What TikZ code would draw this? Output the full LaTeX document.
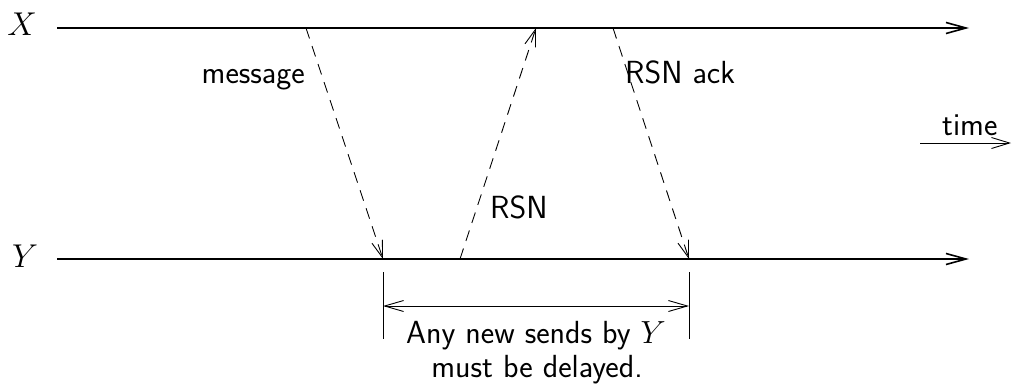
\documentclass[tikz,border=0pt]{standalone}
\usepackage{fix-cm}
\usepackage{fontspec}
\usetikzlibrary{arrows.meta}
\tikzset{
  timeline/.style={line width=1.6pt,-{Straight Barb[length=20pt,width=11pt,line width=1.6pt]}},
  msgline/.style={line width=0.9pt,dash pattern=on 11pt off 8pt,-{Straight Barb[length=17pt,width=11pt,line width=0.9pt]}},
  span/.style={line width=0.9pt,{Straight Barb[length=19pt,width=11pt,line width=0.9pt]}-{Straight Barb[length=19pt,width=11pt,line width=0.9pt]}},
  tick/.style={line width=0.9pt},
  lbl/.style={font=\fontsize{32}{36}\selectfont\sffamily,inner sep=0pt},
  proc/.style={font=\fontsize{33}{36}\selectfont,inner sep=0pt}
}
\begin{document}
\begin{tikzpicture}[x=1pt,y=-1pt]
\useasboundingbox (0,0) rectangle (1012,386);
% process time lines
\coordinate (x0) at (57,28);  \coordinate (x1) at (969,28);
\coordinate (y0) at (57,259); \coordinate (y1) at (969,259);
\node[proc,anchor=base] (X) at (22,35) {$X$};
\node[proc,anchor=base] (Y) at (25,267) {$Y$};
\draw[timeline] (x0) -- (x1);
\draw[timeline] (y0) -- (y1);
% messages
\coordinate (msgS) at (306,28);  \coordinate (msgE) at (383,259);
\coordinate (rsnS) at (460,259); \coordinate (rsnE) at (536,28);
\coordinate (ackS) at (613,28);  \coordinate (ackE) at (689,259);
\draw[msgline] (msgS) -- (msgE);
\draw[msgline] (rsnS) -- (rsnE);
\draw[msgline] (ackS) -- (ackE);
\node[lbl,anchor=base east] (lmsg) at (305,83) {message};
\node[lbl,anchor=base west] (lack) at (625,83) {RSN ack};
\node[lbl,anchor=base west] (lrsn) at (490,218) {RSN};
% time direction
\coordinate (t0) at (920,143); \coordinate (t1) at (1011,143);
\draw[line width=0.9pt,-{Straight Barb[length=18pt,width=11pt,line width=0.9pt]}] (t0) -- (t1);
\node[lbl,anchor=base west] (ltime) at (942,135) {time};
% delay interval
\coordinate (bl1) at (383,272); \coordinate (bl2) at (383,339);
\coordinate (br1) at (689,272); \coordinate (br2) at (689,339);
\coordinate (al) at (383,306);  \coordinate (ar) at (689,306);
\draw[tick] (bl1) -- (bl2);
\draw[tick] (br1) -- (br2);
\draw[span] (al) -- (ar);
\node[lbl,anchor=base] (d1) at (536,343) {Any new sends by $Y$};
\node[lbl,anchor=base] (d2) at (537,377) {must be delayed.};
\end{tikzpicture}
\end{document}
